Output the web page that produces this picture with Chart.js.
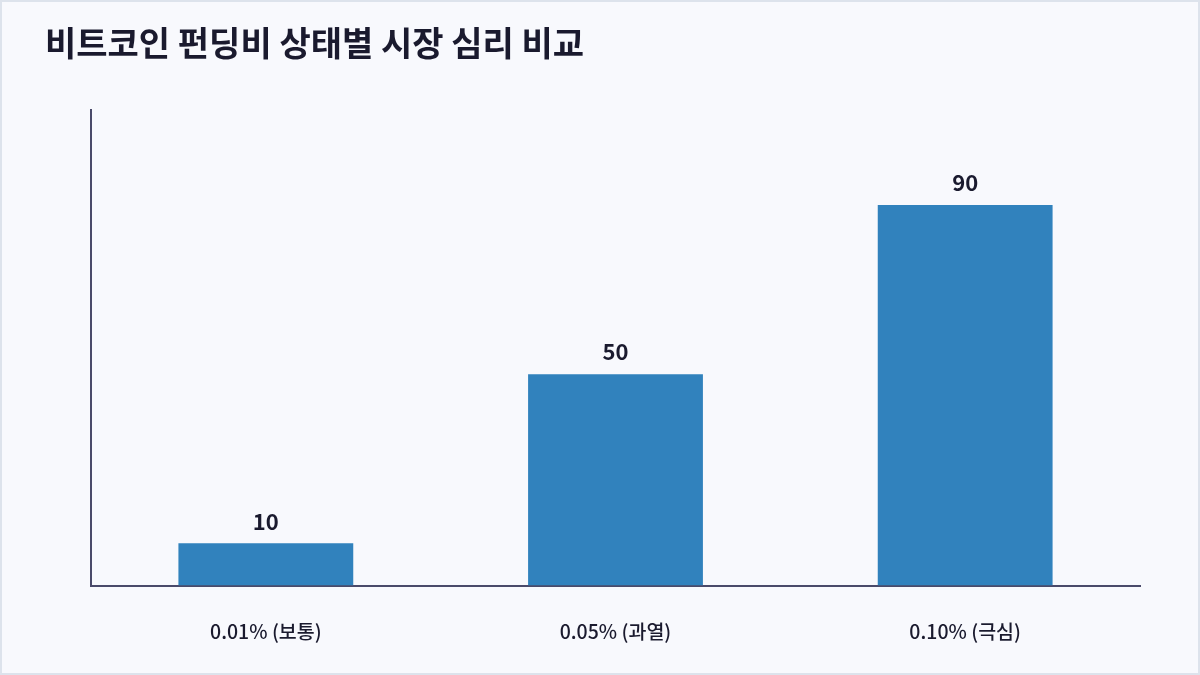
<!DOCTYPE html>
<html>
<head>
<meta charset="utf-8">
<script src="https://cdn.jsdelivr.net/npm/chart.js@4.4.0/dist/chart.umd.min.js"></script>
<style>
  html, body { margin: 0; padding: 0; background: #f8f9fd; }
  #wrap { width: 1200px; height: 675px; position: relative; }
</style>
</head>
<body>
<div id="wrap"><canvas id="mycanvas"></canvas></div>
<script>
var categories = ['0.01% (보통)', '0.05% (과열)', '0.10% (극심)'];
var values = [10, 50, 90];
var yMax = 112.5;
var titleText = '비트코인 펀딩비 상태별 시장 심리 비교';

var FONT = "'Noto Sans CJK KR', 'Noto Sans', sans-serif";

// background and light frame
var framePlugin = {
  id: 'frame',
  beforeDraw: function(chart) {
    var c = chart.ctx;
    c.save();
    c.fillStyle = '#f8f9fd';
    c.fillRect(0, 0, chart.width, chart.height);
    c.strokeStyle = '#dde3ec';
    c.lineWidth = 2;
    c.strokeRect(1, 1, chart.width - 2, chart.height - 2);
    c.restore();
  }
};

// numbers above bars
var valueLabels = {
  id: 'valueLabels',
  afterDatasetsDraw: function(chart) {
    var c = chart.ctx;
    var meta = chart.getDatasetMeta(0);
    c.save();
    c.font = 'bold 22px ' + FONT;
    c.fillStyle = '#1a1a2e';
    c.textAlign = 'center';
    c.textBaseline = 'bottom';
    meta.data.forEach(function(bar, i) {
      c.fillText(values[i], bar.x, bar.y - 11);
    });
    c.restore();
  }
};

var ctx = document.getElementById('mycanvas');

new Chart(ctx, {
  type: 'bar',
  data: {
    labels: categories,
    datasets: [{
      data: values,
      backgroundColor: '#3182bd',
      borderWidth: 0,
      barPercentage: 0.5,
      categoryPercentage: 1.0
    }]
  },
  options: {
    responsive: true,
    maintainAspectRatio: false,
    animation: false,
    layout: { padding: { left: 45, right: 60, top: 0, bottom: 27 } },
    plugins: {
      legend: { display: false },
      tooltip: { enabled: false },
      title: {
        display: true,
        text: titleText,
        align: 'start',
        color: '#1a1a2e',
        font: { family: FONT, size: 34, weight: 'bold', lineHeight: 1.2 },
        padding: { top: 23, bottom: 46 }
      }
    },
    scales: {
      x: {
        grid: { display: false, drawTicks: true, tickLength: 29 },
        border: { display: true, color: '#4a4a6a', width: 2 },
        ticks: {
          color: '#1a1a2e',
          padding: 5,
          font: { family: FONT, size: 19.5, weight: '500', lineHeight: 1.2 }
        }
      },
      y: {
        min: 0,
        max: yMax,
        grid: { display: false },
        border: { display: true, color: '#4a4a6a', width: 2 },
        ticks: { display: false },
        afterFit: function(scale) { scale.width = 46; }
      }
    }
  },
  plugins: [framePlugin, valueLabels]
});
</script>
</body>
</html>
